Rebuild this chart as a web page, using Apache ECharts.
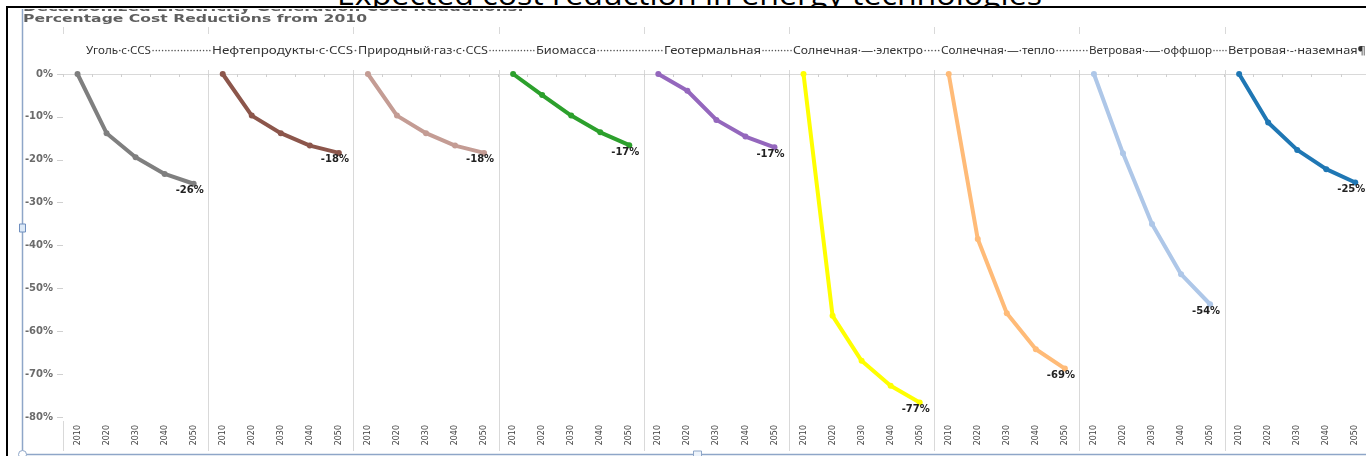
<!DOCTYPE html>
<html>
<head>
<meta charset="utf-8">
<script src="https://cdn.jsdelivr.net/npm/echarts@6.0.0/dist/echarts.min.js"></script>
<style>
html,body{margin:0;padding:0;background:#fff;width:1366px;height:456px;overflow:hidden;position:relative}
#doctitle{position:absolute;left:0;top:0;width:1366px;height:6px;overflow:hidden}
#doctitle span{position:absolute;left:337px;top:-21px;font:30px/30px "Open Sans";color:#000;white-space:nowrap;transform-origin:0 0}
#frame{position:absolute;left:6px;top:6px;right:0;bottom:0;border-top:2px solid #000;border-left:2px solid #000}
#chart{position:absolute;left:9px;top:9px;width:1357px;height:447px}
</style>
</head>
<body>
<div id="doctitle"><span id="tt"></span></div>
<div id="frame"></div>
<div id="chart"></div>
<script>
// ---------- data ----------
const years = ['2010', '2020', '2030', '2040', '2050'];
const technologies = [
  'Уголь·с·CCS',
  'Нефтепродукты·с·CCS',
  'Природный·газ·с·CCS',
  'Биомасса',
  'Геотермальная',
  'Солнечная·—·электро',
  'Солнечная·—·тепло',
  'Ветровая·-—·оффшор',
  'Ветровая·-·наземная¶'
];
const coalCCS      = [0, -13.8, -19.4, -23.3, -25.6];
const oilCCS       = [0, -9.7, -13.8, -16.7, -18.4];
const gasCCS       = [0, -9.7, -13.8, -16.7, -18.4];
const biomass      = [0, -4.9, -9.7, -13.6, -16.6];
const geothermal   = [0, -3.9, -10.7, -14.6, -17.1];
const solarPower   = [0, -56.4, -66.9, -72.7, -76.6];
const solarHeat    = [0, -38.5, -55.8, -64.2, -68.7];
const windOffshore = [0, -18.5, -35.0, -46.7, -53.7];
const windOnshore  = [0, -11.3, -17.7, -22.2, -25.3];
const seriesValues = [coalCCS, oilCCS, gasCCS, biomass, geothermal, solarPower, solarHeat, windOffshore, windOnshore];
const yMin = -80, yMax = 0, yStep = 10;
const docTitle = 'Expected cost reduction in energy technologies';
const chartTitleLines = ['Decarbonized Electricity Generation Cost Reductions:', 'Percentage Cost Reductions from 2010'];

// ---------- styles / layout ----------
const seriesColors = ['#7f7f7f', '#8c564b', '#c49c94', '#2ca02c', '#9467bd', '#ffff00', '#ffbb78', '#aec7e8', '#1f77b4'];
const OX = 9, OY = 9;                 // chart container offset in page
const P0 = 63 - OX, PW = 145.2;       // first panel left, panel width
const PT = 74 - OY, PH = 343;         // plot top, plot height
const headerSpans = [[86,151],[212,353],[358,488],[536,596],[664,761],[793,923],[941,1055],[1089,1212],[1228,1366]];
const HFONT = '10.5px "Noto Sans"';

const mctx = document.createElement('canvas').getContext('2d');
function textW(t, font) { mctx.font = font; return mctx.measureText(t).width; }

// document title (Word text above the chart picture)
const tt = document.getElementById('tt');
tt.textContent = docTitle;
tt.style.transform = 'scaleX(' + (705 / textW(docTitle, '30px "Open Sans"')) + ')';

const chart = echarts.init(document.getElementById('chart'));
const n = seriesValues.length;
const graphics = [];

// chart title lines (top one cropped by the picture edge)
const tFonts = ['bold 12px "DejaVu Sans"', 'bold 11px "DejaVu Sans"'];
const tSpans = [[23, 524], [23, 367]];
const tY = [-1.5, 10.2];
chartTitleLines.forEach((t, k) => {
  graphics.push({type: 'text', x: tSpans[k][0] - OX, y: tY[k], scaleX: (tSpans[k][1] - tSpans[k][0]) / textW(t, tFonts[k]), z: 3,
    style: {text: t, font: tFonts[k], fill: '#5f5f5f', align: 'left', verticalAlign: 'middle'}});
});

// header labels with dotted leaders
technologies.forEach((t, i) => {
  const s = headerSpans[i][0], e = headerSpans[i][1];
  graphics.push({type: 'text', x: s - OX, y: 51 - OY, scaleX: (e - s) / textW(t, HFONT), z: 3,
    style: {text: t, font: HFONT, fill: '#333', align: 'left', verticalAlign: 'middle'}});
  if (i < n - 1) {
    const g0 = e + 0.5, g1 = headerSpans[i + 1][0] - 0.5;
    const cnt = Math.max(1, Math.round((g1 - g0) / 3.2));
    const str = '·'.repeat(cnt);
    graphics.push({type: 'text', x: g0 - OX, y: 51 - OY, scaleX: (g1 - g0) / textW(str, HFONT), z: 3,
      style: {text: str, font: HFONT, fill: '#555', align: 'left', verticalAlign: 'middle'}});
  }
});

// panel dividers
for (let i = 0; i <= n; i++) {
  const x = Math.round(P0 + i * PW) + 0.5;
  graphics.push({type: 'line', z: 1, shape: {x1: x, y1: 27 - OY, x2: x, y2: 34 - OY}, style: {stroke: '#d9d9d9', lineWidth: 1}});
  if (i > 0) {
    graphics.push({type: 'line', z: 1, shape: {x1: x, y1: 70 - OY, x2: x, y2: 451 - OY}, style: {stroke: '#d9d9d9', lineWidth: 1}});
  } else {
    graphics.push({type: 'line', z: 1, shape: {x1: x, y1: 421 - OY, x2: x, y2: 451 - OY}, style: {stroke: '#d9d9d9', lineWidth: 1}});
  }
}

// selection frame of the embedded picture
const fb = '#8ea6c8';
graphics.push({type: 'line', z: 20, shape: {x1: 22.5 - OX, y1: 0, x2: 22.5 - OX, y2: 454.5 - OY}, style: {stroke: fb, lineWidth: 1.5}});
graphics.push({type: 'line', z: 20, shape: {x1: 22.5 - OX, y1: 454.5 - OY, x2: 1366, y2: 454.5 - OY}, style: {stroke: fb, lineWidth: 1.5}});
graphics.push({type: 'rect', z: 21, shape: {x: 19.5 - OX, y: 224 - OY, width: 6, height: 8}, style: {fill: '#dce9f7', stroke: '#6f8fbf', lineWidth: 1}});
graphics.push({type: 'circle', z: 21, shape: {cx: 22.5 - OX, cy: 454.5 - OY, r: 4}, style: {fill: '#fff', stroke: fb, lineWidth: 1}});
graphics.push({type: 'rect', z: 21, shape: {x: 693.5 - OX, y: 451 - OY, width: 8, height: 7}, style: {fill: '#eef4fb', stroke: fb, lineWidth: 1}});

const grids = [], xAxes = [], yAxes = [], series = [];
for (let i = 0; i < n; i++) {
  grids.push({left: P0 + i * PW, top: PT, width: PW, height: PH, outerBoundsMode: 'none', containLabel: false});
  xAxes.push({
    type: 'category', gridIndex: i, data: years, boundaryGap: true, offset: 4, z: 5,
    axisLine: {show: true, lineStyle: {color: '#d9d9d9', width: 1}},
    axisTick: {show: true, length: 3, lineStyle: {color: '#cfcfcf'}},
    axisLabel: {interval: 0, rotate: 90, margin: 4, fontSize: 8, fontFamily: 'DejaVu Sans', color: '#3f3f3f', hideOverlap: false},
    splitLine: {show: false}
  });
  yAxes.push({
    type: 'value', gridIndex: i, min: yMin, max: yMax, interval: yStep, z: 5,
    axisLine: {show: false},
    axisTick: {show: i === 0, length: 6, lineStyle: {color: '#d0d0d0'}},
    axisLabel: {show: i === 0, margin: 10, formatter: v => v + '%', fontFamily: 'DejaVu Sans', fontWeight: 'bold', fontSize: 10, color: '#6b6b6b'},
    splitLine: {show: false}
  });
  const vals = seriesValues[i];
  series.push({
    type: 'line', name: technologies[i], xAxisIndex: i, yAxisIndex: i, z: 10,
    data: vals.map((v, j) => j === vals.length - 1 ? {value: v, label: {show: true}} : v),
    symbol: 'circle', symbolSize: 6, showSymbol: true, smooth: false,
    lineStyle: {width: 4, color: seriesColors[i]},
    itemStyle: {color: seriesColors[i]},
    label: {show: false, position: 'bottom', distance: 0, offset: [-4, -1],
      formatter: p => Math.round(p.value) + '%',
      fontFamily: 'DejaVu Sans', fontWeight: 'bold', fontSize: 10, color: '#222'},
    markLine: {silent: true, symbol: 'none', label: {show: false}, animation: false, z: 1,
      lineStyle: {type: [2, 1], color: '#9a9a9a', width: 1},
      emphasis: {disabled: true}, data: [{yAxis: 0}]},
    emphasis: {disabled: true},
    animation: false
  });
}

chart.setOption({
  animation: false,
  grid: grids,
  xAxis: xAxes,
  yAxis: yAxes,
  series: series,
  graphic: {elements: graphics}
});
</script>
</body>
</html>
